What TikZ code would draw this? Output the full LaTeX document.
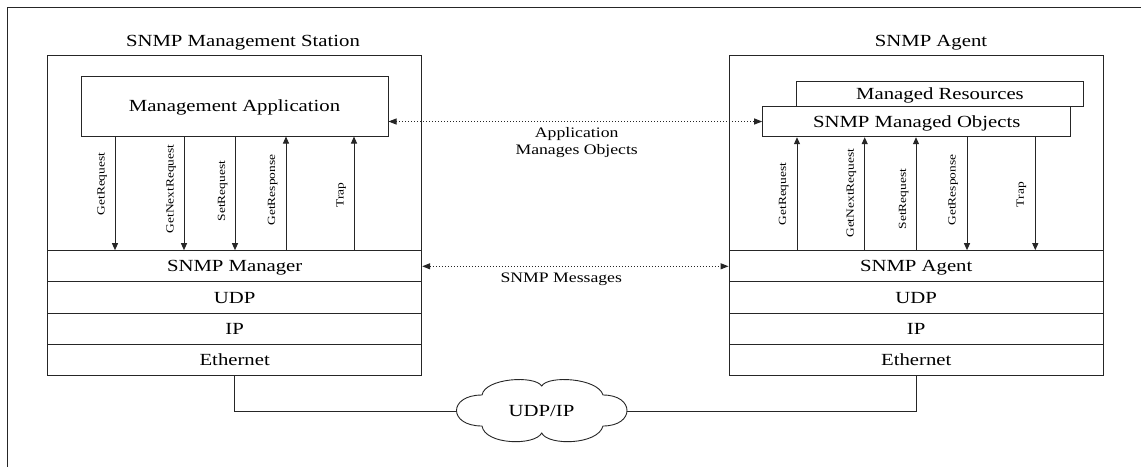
\documentclass[tikz,border=0pt]{standalone}
\usepackage{fontspec}
\setmainfont{Liberation Serif}[FakeStretch=1.22]
\usetikzlibrary{arrows.meta}
\tikzset{
  ln/.style={draw=black!85, line width=1pt},
  big/.style={font=\fontsize{17}{20}\selectfont, text height=11.3pt, text depth=0pt, inner sep=0pt},
  box/.style={ln, big, fill=white, rectangle},
  lay/.style={box, minimum height=31.25pt},
  msg/.style={font=\fontsize{14.5}{17}\selectfont, text height=9.6pt, text depth=0pt, inner sep=0pt},
  vl/.style={rotate=90, font=\fontsize{11}{13}\selectfont, text height=7.3pt, text depth=0pt, inner sep=0pt},
  tip/.style={ln, -{Triangle[length=7pt,width=6pt]}},
  dots/.style={ln, dash pattern=on 1pt off 2pt, {Triangle[length=8pt,width=6pt]}-{Triangle[length=8pt,width=6pt]}},
  cloudline/.style={draw=black!85, line width=0.9pt, fill=white}
}
\begin{document}
\begin{tikzpicture}[x=1pt,y=-1pt]
\useasboundingbox (0,0) rectangle (1141,467);
\fill[white] (0,0) rectangle (1141,467);
% outer frame
\draw[ln] (1141,7) -- (7,7) -- (7,467);

% station boxes
\node[ln, rectangle, minimum width=374pt, minimum height=320pt] (stL) at (234.7,215.7) {};
\node[ln, rectangle, minimum width=374.3pt, minimum height=320pt] (stR) at (916.2,215.7) {};
\node[big] (tL) at (243,41) {SNMP Management Station};
\node[big] (tR) at (931,41) {SNMP Agent};

% left stack
\node[lay, minimum width=374pt] (mgr) at (234.7,266.3) {SNMP Manager};
\node[lay, minimum width=374pt] (udpL) at (234.7,297.6) {UDP};
\node[lay, minimum width=374pt] (ipL) at (234.7,328.8) {IP};
\node[lay, minimum width=374pt] (ethL) at (234.7,360.1) {Ethernet};

% right stack
\node[lay, minimum width=374.3pt] (agt) at (916.2,266.3) {SNMP Agent};
\node[lay, minimum width=374.3pt] (udpR) at (916.2,297.6) {UDP};
\node[lay, minimum width=374.3pt] (ipR) at (916.2,328.8) {IP};
\node[lay, minimum width=374.3pt] (ethR) at (916.2,360.1) {Ethernet};

% application boxes
\node[box, minimum width=307pt, minimum height=60pt] (MA) at (234.5,106) {Management Application};
\node[box, minimum width=286.6pt, minimum height=25pt] (MR) at (940,94.2) {Managed Resources};
\node[box, minimum width=308pt, minimum height=30.4pt] (MO) at (916.7,121.5) {SNMP Managed Objects};

% left vertical arrows
\draw[tip] (MA.south -| 115,0) -- (mgr.north -| 115,0);
\draw[tip] (MA.south -| 184,0) -- (mgr.north -| 184,0);
\draw[tip] (MA.south -| 235,0) -- (mgr.north -| 235,0);
\draw[tip] (mgr.north -| 286,0) -- (MA.south -| 286,0);
\draw[tip] (mgr.north -| 354,0) -- (MA.south -| 354,0);
\node[vl] (l1) at (101,184) {GetRequest};
\node[vl] (l2) at (170,189) {GetNextRequest};
\node[vl] (l3) at (221.5,191) {SetRequest};
\node[vl] (l4) at (271.5,190) {GetResponse};
\node[vl] (l5) at (340,195) {Trap};

% right vertical arrows
\draw[tip] (agt.north -| 797,0) -- (MO.south -| 797,0);
\draw[tip] (agt.north -| 864.7,0) -- (MO.south -| 864.7,0);
\draw[tip] (agt.north -| 916,0) -- (MO.south -| 916,0);
\draw[tip] (MO.south -| 967,0) -- (agt.north -| 967,0);
\draw[tip] (MO.south -| 1035.3,0) -- (agt.north -| 1035.3,0);
\node[vl] (r1) at (782.5,194) {GetRequest};
\node[vl] (r2) at (850.3,193.3) {GetNextRequest};
\node[vl] (r3) at (902.5,199) {SetRequest};
\node[vl] (r4) at (952,190) {GetResponse};
\node[vl] (r5) at (1020.3,194.7) {Trap};

% dotted links
\draw[dots] (MA.east |- MO.west) -- (MO.west);
\node[msg] (m1) at (576.7,132.5) {Application};
\node[msg] (m2) at (576.7,149.5) {Manages Objects};
\draw[dots] (mgr.east) -- (agt.west);
\node[msg] (m3) at (561.3,277.5) {SNMP Messages};

% cloud
\draw[cloudline] (482,395) .. controls (485,378) and (535,375) .. (541.7,386)
  .. controls (548,375) and (598,378) .. (603,395)
  .. controls (635,395) and (635,426) .. (603,426)
  .. controls (598,445) and (548,446) .. (541.7,433)
  .. controls (535,446) and (485,445) .. (482,426)
  .. controls (448,426) and (448,395) .. cycle;
\node[big, minimum width=171pt, minimum height=62pt] (cl) at (541.5,411) {UDP/IP};
\draw[ln] (ethL.south) |- (cl.west);
\draw[ln] (ethR.south) |- (cl.east);
\end{tikzpicture}
\end{document}
